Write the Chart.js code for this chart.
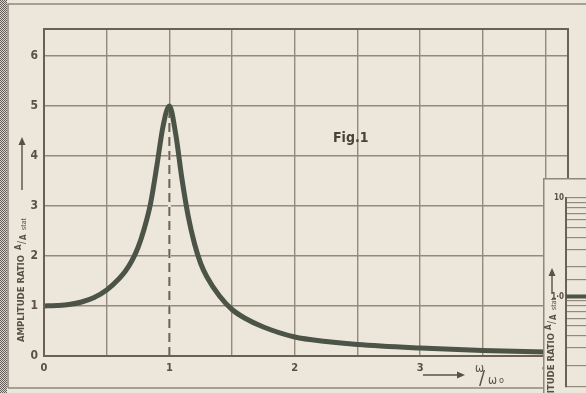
<!DOCTYPE html>
<html lang="en">
<head>
  <meta charset="UTF-8">
  <title>Fig.1 Amplitude ratio</title>
  <script src="https://cdn.jsdelivr.net/npm/chart.js"></script>
  <style>
    body {
      margin: 0;
      background: #ece7da;
    }
    .wrap {
      position: relative;
      width: 586px;
      height: 393px;
      overflow: hidden;
    }
    #main { position: absolute; left: 0; top: 0; }
    #inset { position: absolute; left: 543px; top: 178px; }
  </style>
</head>
<body>
  <div class="wrap">
    <canvas id="main" width="586" height="393"></canvas>
    <canvas id="inset" width="43" height="215"></canvas>
  </div>

  <script>
    // resonance curve (w/w0 -> A/A stat)
    const freqRatio = [0, 0.1, 0.2, 0.3, 0.4, 0.5, 0.6, 0.65, 0.7, 0.75, 0.8, 0.85, 0.9, 0.95, 1.0,
                       1.05, 1.1, 1.15, 1.2, 1.25, 1.3, 1.4, 1.5, 1.6, 1.75, 2, 2.25, 2.5, 3, 3.5, 4];
    const ampRatio  = [1.0, 1.01, 1.03, 1.08, 1.17, 1.32, 1.55, 1.7, 1.9, 2.17, 2.55, 3.05, 3.8, 4.6, 5.0,
                       4.45, 3.55, 2.8, 2.25, 1.85, 1.58, 1.2, 0.93, 0.76, 0.58, 0.38, 0.29, 0.23, 0.16, 0.11, 0.08];

    // dashed marker at resonance
    const resX = [1, 1];
    const resY = [0, 4.9];

    const xMax = 4.18;
    const yMax = 6.54;
    const xLabelled = [0, 1, 2, 3, 4];

    // second (log) figure peeking in at the right
    const insetX = [0, 1];
    const insetY = [1.0, 1.0];
    const insetLabels = { '10': '10', '1': '1·0' };

    const paper = '#ece7da';
    const ink = '#5a5046';
    const gridColor = '#918a7d';
    const axisColor = '#6a6055';
    const curveColor = '#4b5447';
    const condensed = '"DejaVu Sans Condensed", "DejaVu Sans", sans-serif';

    function halftone(ctx) {
      const c = document.createElement('canvas');
      c.width = 2; c.height = 2;
      const p = c.getContext('2d');
      p.fillStyle = '#d9d5cc'; p.fillRect(0, 0, 2, 2);
      p.fillStyle = '#625e57'; p.fillRect(0, 0, 1, 1); p.fillRect(1, 1, 1, 1);
      return ctx.createPattern(c, 'repeat');
    }

    function arrow(ctx, from, to, y) {
      ctx.beginPath();
      ctx.moveTo(from, y);
      ctx.lineTo(to - 7, y);
      ctx.stroke();
      ctx.beginPath();
      ctx.moveTo(to, y);
      ctx.lineTo(to - 8, y - 3.5);
      ctx.lineTo(to - 8, y + 3.5);
      ctx.closePath();
      ctx.fill();
    }

    // rotated "AMPLITUDE RATIO A/A stat --->" label
    function ampTitle(ctx, x, y0, len, statAt, arrowFrom, arrowTo) {
      ctx.save();
      ctx.translate(x, y0);
      ctx.rotate(-Math.PI / 2);
      ctx.fillStyle = ink;
      ctx.strokeStyle = ink;
      ctx.lineWidth = 1.4;
      ctx.textBaseline = 'middle';
      ctx.textAlign = 'left';
      ctx.font = 'bold 8px ' + condensed;
      const w = ctx.measureText('AMPLITUDE RATIO').width;
      ctx.save();
      ctx.scale(len / w, 1);
      ctx.fillText('AMPLITUDE RATIO', 0, 0);
      ctx.restore();
      ctx.font = 'bold 8px ' + condensed;
      ctx.fillText('A', statAt, -3);
      ctx.font = '10px ' + condensed;
      ctx.fillText('/', statAt + 6, 0);
      ctx.font = 'bold 8px ' + condensed;
      ctx.fillText('A', statAt + 10, 2);
      ctx.font = '7px ' + condensed;
      ctx.fillText('stat', statAt + 20, 2);
      arrow(ctx, arrowFrom, arrowTo, 0);
      ctx.restore();
    }

    const framePlugin = {
      id: 'frame',
      beforeDraw(chart) {
        const ctx = chart.ctx;
        ctx.save();
        ctx.fillStyle = paper;
        ctx.fillRect(0, 0, chart.width, chart.height);
        ctx.fillStyle = halftone(ctx);
        ctx.fillRect(0, 0, 7, chart.height);
        ctx.strokeStyle = '#8e887d';
        ctx.lineWidth = 1.5;
        ctx.beginPath();
        ctx.moveTo(8, 388); ctx.lineTo(8, 4); ctx.lineTo(chart.width, 4);
        ctx.moveTo(8, 388); ctx.lineTo(chart.width, 388);
        ctx.stroke();
        ctx.restore();
      },
      afterDraw(chart) {
        const { ctx, chartArea: a } = chart;
        ctx.save();
        ctx.strokeStyle = axisColor;
        ctx.lineWidth = 2;
        ctx.strokeRect(a.left, a.top, a.right - a.left, a.bottom - a.top);

        ampTitle(ctx, 22, 342, 87, 92, 152, 205);

        // Fig.1
        ctx.fillStyle = '#4a4138';
        ctx.font = 'bold 14px ' + condensed;
        ctx.textBaseline = 'alphabetic';
        ctx.fillText('Fig.1', 333, 142);

        // w/w0 with arrow
        ctx.strokeStyle = ink;
        ctx.fillStyle = ink;
        ctx.lineWidth = 1.6;
        arrow(ctx, 423, 465, 375);
        ctx.font = '12px ' + condensed;
        ctx.fillText('ω', 475, 372);
        ctx.font = '20px ' + condensed;
        ctx.fillText('/', 479, 384);
        ctx.font = '12px ' + condensed;
        ctx.fillText('ω', 488, 384);
        ctx.font = '9px ' + condensed;
        ctx.fillText('o', 499, 383);
        ctx.restore();
      }
    };

    new Chart(document.getElementById('main'), {
      type: 'line',
      data: {
        datasets: [
          {
            data: freqRatio.map((x, i) => ({ x, y: ampRatio[i] })),
            borderColor: curveColor,
            borderWidth: 5,
            pointRadius: 0,
            cubicInterpolationMode: 'monotone',
            order: 0
          },
          {
            data: resX.map((x, i) => ({ x, y: resY[i] })),
            borderColor: '#6e6158',
            borderWidth: 2,
            borderDash: [9, 5],
            pointRadius: 0,
            order: 1
          },
          {
            data: resX.map((x, i) => ({ x, y: resY[i] })),
            borderColor: paper,
            borderWidth: 3,
            pointRadius: 0,
            order: 2
          }
        ]
      },
      options: {
        responsive: false,
        animation: false,
        events: [],
        layout: { padding: { top: 29, right: 18, left: 0, bottom: 0 } },
        plugins: {
          legend: { display: false },
          tooltip: { enabled: false }
        },
        scales: {
          x: {
            type: 'linear',
            min: 0,
            max: xMax,
            afterFit(scale) { scale.height = 37; },
            grid: { color: gridColor, lineWidth: 1.4, drawTicks: false },
            border: { color: axisColor, width: 2 },
            ticks: {
              stepSize: 0.5,
              includeBounds: false,
              autoSkip: false,
              maxRotation: 0,
              padding: 6,
              color: ink,
              font: { family: condensed, size: 11, weight: 'bold' },
              callback: v => xLabelled.includes(v) ? String(v) : ''
            }
          },
          y: {
            min: 0,
            max: yMax,
            afterFit(scale) { scale.width = 44; },
            grid: { color: gridColor, lineWidth: 1.4, drawTicks: false },
            border: { color: axisColor, width: 2 },
            ticks: {
              stepSize: 1,
              includeBounds: false,
              padding: 6,
              color: ink,
              font: { family: condensed, size: 12, weight: 'bold' }
            }
          }
        }
      },
      plugins: [framePlugin]
    });

    const insetPlugin = {
      id: 'insetFrame',
      beforeDraw(chart) {
        const ctx = chart.ctx;
        ctx.save();
        ctx.fillStyle = paper;
        ctx.fillRect(0, 0, chart.width, chart.height);
        ctx.strokeStyle = '#8e887d';
        ctx.lineWidth = 1.5;
        ctx.beginPath();
        ctx.moveTo(0.75, chart.height); ctx.lineTo(0.75, 0.75); ctx.lineTo(chart.width, 0.75);
        ctx.stroke();
        ctx.restore();
        // title sits under the tick labels
        ampTitle(ctx, 9, 242, 87, 90, 126, 152);
      }
    };

    new Chart(document.getElementById('inset'), {
      type: 'line',
      data: {
        datasets: [{
          data: insetX.map((x, i) => ({ x, y: insetY[i] })),
          borderColor: curveColor,
          borderWidth: 4,
          pointRadius: 0
        }]
      },
      options: {
        responsive: false,
        animation: false,
        events: [],
        layout: { padding: { top: 20, right: 0, left: 0, bottom: 0 } },
        plugins: {
          legend: { display: false },
          tooltip: { enabled: false }
        },
        scales: {
          x: { type: 'linear', min: 0, max: 1, display: false },
          y: {
            type: 'logarithmic',
            min: 0.1225,
            max: 10,
            afterFit(scale) { scale.width = 23; },
            grid: { color: gridColor, lineWidth: 1.2, drawTicks: false },
            border: { color: axisColor, width: 2 },
            ticks: {
              autoSkip: false,
              padding: 2,
              color: ink,
              font: { family: condensed, size: 8, weight: 'bold' },
              callback: v => insetLabels[String(v)] ?? ''
            }
          }
        }
      },
      plugins: [insetPlugin]
    });
  </script>
</body>
</html>
